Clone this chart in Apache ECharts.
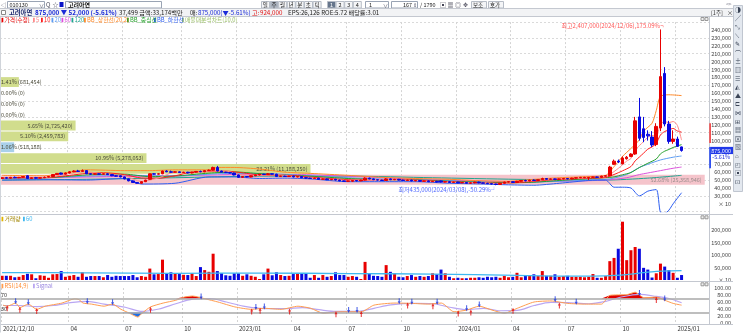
<!DOCTYPE html>
<html><head><meta charset="utf-8">
<script src="https://cdn.jsdelivr.net/npm/echarts@6/dist/echarts.min.js"></script>
<style>html,body{margin:0;padding:0;background:#fff;}#c{width:743px;height:333px;}</style>
</head><body><div id="c"></div>
<script>
// ---------- DATA (prices in chart units: won / 10) ----------
const tickIdx  = [0,16,29,43,56,69,82,95,108,121,134,147,160];
const tickText = ['2021/12/10','04','07','10','2023/01','04','07','10','2024/01','04','07','10','2025/01'];

const open = [52000,53000,52500,53500,53000,53500,55500,52000,53000,52500,53000,54000,54500,57000,59000,57500,59000,60500,61500,61000,62000,58000,57500,58000,57500,58000,57000,
55500,
55500,54000,51500,49000,47000,46000,48000,51000,58000,57500,58000,61500,60500,60000,60500,59500,60000,59000,60000,61000,60500,62000,62500,66000,61500,60000,59500,59000,56500,53500,54500,54000,55500,56500,57500,57000,58000,57500,54500,55000,54500,55000,54000,54500,53000,52500,52000,52500,51000,51500,50500,51000,50000,49000,
48500,
48500,49500,49000,50000,52500,51500,50500,50000,49500,51500,50500,51000,50000,49500,50000,49000,49500,48500,49000,48000,48500,49000,47500,48000,47000,47500,46500,47000,46000,46500,47500,46500,46000,45500,45000,44500,46000,47500,48000,47000,48500,49500,49000,50000,49500,50500,52000,51000,51500,51000,51500,52000,51500,52500,
53000,
53000,53000,53500,54000,53500,55000,55500,70000,74000,70500,77000,80000,83000,130000,115000,108000,104500,95000,116000,185000,121000,99000,102000,92000];
const close = [53000,52500,53500,53000,53500,54500,52000,53000,52500,53000,53500,54500,57000,58500,57500,59000,60500,61500,61000,62000,58000,57500,58000,57500,58000,57000,55500,
55000,
54000,51500,49000,47000,46000,48000,50000,58000,57500,58000,61500,60500,60000,60500,59500,60000,59000,60000,61000,60500,62000,62500,66000,61500,60000,59500,59000,56500,53500,54500,54000,55500,56500,57500,57000,58000,57500,54500,55000,54500,55000,54000,54500,53000,52500,52000,52500,51000,51500,50500,51000,50000,49000,48500,
49000,
49500,49000,50000,52500,51500,50500,50000,49500,51500,50500,51000,50000,49500,50000,49000,49500,48500,49000,48000,48500,47500,47500,48000,47000,47500,46500,47000,46000,46500,47500,46500,46000,45500,45000,44500,46000,47500,48000,47000,48500,49500,49000,50000,49500,50500,52000,51000,51500,51000,51500,52000,51500,52500,53000,
53500,
53500,53500,54000,53500,55000,55500,66500,74000,73000,78000,79000,83000,125000,103000,104000,106000,94500,118000,181000,121000,99000,102000,92700,87500];
const low = [51500,52000,52000,52500,52500,53000,51500,51500,52000,52000,52500,53500,54000,56500,57000,57000,58500,60000,60500,60500,57500,57000,57000,57000,57000,56500,55000,
54500,
53500,51000,48500,46500,45500,45500,47500,50500,57000,57000,57500,60000,59500,59500,59000,59000,58500,58500,59500,60000,60000,61500,62000,61000,59500,59000,58500,56000,53000,53000,53500,53500,55000,56000,56500,56500,57000,54000,54000,54000,54000,53500,53500,52500,52000,51500,51500,50500,50500,50000,50000,49500,48500,48000,
48000,
48000,48500,48500,49500,51000,50000,49500,49000,49000,50000,50000,49500,49000,49000,48500,48500,48000,48000,47500,47500,47000,47000,47000,46500,46500,46000,46000,45500,45500,46000,46000,45500,45000,44500,43500,44000,45500,47000,46500,46500,48000,48500,48500,49000,49000,50000,50500,50500,50500,50500,51000,51000,51000,52000,
52500,
52500,50000,53000,53000,53000,54500,55000,69000,71500,70000,76000,79000,82000,100000,98000,100000,92000,93000,112000,118000,96000,96000,92000,86000];
const high = [53500,54000,54000,54500,54000,55000,56000,53500,54000,53500,54500,55000,57500,59000,59500,59500,61500,62500,63000,63500,62500,58500,58500,58500,58500,58500,57500,
56500,
56000,54500,52000,49500,47500,48500,50500,58500,59000,59000,62000,62500,62000,61500,61000,60500,60500,60500,61500,62000,62500,63500,67000,68000,62000,60500,60000,59500,57000,55000,55000,56000,57000,58000,58000,59000,58500,58000,55500,55500,55500,55500,55000,55000,53500,53000,53000,53000,52000,52000,51500,51500,50500,49500,
49500,
50000,50000,50500,53500,53000,52000,51000,50500,52500,52000,51500,51500,50500,50500,50500,50000,50000,49500,49500,49000,49000,49500,48500,48500,48000,48000,47500,47500,47000,48000,48000,47000,46500,46000,45500,46500,48000,48500,48500,49000,50000,50500,50500,51000,51000,53000,52500,52000,52000,52000,52500,52500,53000,53500,
54000,
54000,54000,54500,54500,55500,56000,68000,76000,76000,80000,80500,84000,130000,154000,130000,113000,112000,122000,240700,193000,125000,113000,105000,92400];
const volume = [17000,17000,17000,11000,13000,20000,25000,23000,7000,19000,17000,9000,23000,24000,36000,13000,17000,20000,13000,31000,13000,16000,16000,16000,11000,20000,13000,
17000,
16000,16000,16000,20000,11000,16000,13000,46000,23000,24000,82000,27000,31000,28000,24000,21000,20000,27000,16000,52000,40000,33000,106000,36000,27000,19000,17000,27000,27000,17000,23000,17000,13000,4000,23000,46000,19000,31000,20000,16000,17000,24000,27000,25000,27000,9000,20000,9000,20000,13000,16000,31000,20000,20000,
13000,
16000,13000,4000,73000,27000,17000,16000,13000,60000,33000,27000,13000,11000,16000,20000,13000,16000,13000,16000,27000,23000,42000,27000,13000,7000,9000,7000,7000,9000,9000,11000,9000,13000,11000,13000,9000,16000,11000,13000,29000,11000,20000,16000,23000,16000,36000,17000,17000,23000,13000,16000,17000,13000,13000,
13000,
11000,13000,24000,9000,9000,16000,76000,89000,126000,235000,80000,120000,133000,126000,49000,42000,10000,27000,66000,54000,40000,29000,9000,20000];

// moving averages / bands: [barIndex, value]
const ma5  = [[0,53000],[4,53200],[8,52800],[12,54500],[16,58500],[20,60600],[24,57800],[29,55300],[33,48300],[37,52700],[41,60100],[45,59800],[49,61300],[53,61400],[57,56400],[61,56000],[65,56900],[69,54600],[73,52800],[77,51300],[82,49500],[86,50400],[90,50800],[94,50400],[98,49600],[102,48400],[106,47600],[110,46800],[114,46700],[118,45400],[122,47800],[126,49200],[130,51200],[134,51600],[139,53100],[143,54300],[144,56800],[145,60800],[146,64800],[147,69400],[148,74100],[149,77400],[150,87600],[151,93600],[152,98800],[153,104200],[154,106500],[155,105100],[156,120700],[157,124100],[158,122700],[159,124200],[160,119300],[161,100600]];
const ma10 = [[0,53000],[4,53000],[8,53000],[12,53700],[16,56000],[20,58400],[24,59300],[29,57000],[33,52600],[37,52300],[41,55500],[45,60200],[49,60800],[53,61400],[57,59200],[61,56500],[65,56300],[69,55600],[73,53800],[77,52200],[82,50500],[86,50100],[90,50500],[94,50600],[98,50000],[102,49000],[106,48000],[110,47200],[114,46600],[118,46100],[122,46800],[126,48400],[130,50300],[134,51400],[139,52400],[143,53400],[145,57100],[147,61700],[149,67200],[150,74300],[151,79200],[152,84100],[153,89200],[154,92000],[155,96400],[156,107200],[157,111500],[158,113500],[159,115400],[160,112200],[161,110700]];
const ma20 = [[0,52500],[10,52800],[20,55000],[31,56000],[41,55000],[51,58000],[61,58500],[71,56000],[82,53000],[92,51000],[102,50000],[112,48000],[122,47000],[132,48500],[141,50500],[144,51500],[148,57000],[151,66000],[153,70000],[156,75500],[159,79000],[161,80500]];
const ma60 = [[0,52000],[20,54000],[41,55500],[61,57500],[71,57000],[82,55000],[92,52500],[102,50500],[112,49000],[122,48000],[132,48500],[143,50000],[148,53000],[151,57000],[153,59000],[156,62000],[159,65000],[161,66500]];
const ma120 = [[0,50000],[20,51000],[41,53000],[61,55000],[82,55000],[102,53000],[122,51000],[143,50000],[153,52500],[161,56000]];
const bbUpper = [[0,56000],[10,55500],[16,60000],[20,63000],[29,62000],[35,62000],[41,63000],[49,63000],[51,66000],[55,66000],[61,64000],[67,60000],[73,58500],[82,56000],[90,53500],[98,52000],[106,51000],[114,49000],[120,48500],[126,51000],[132,53000],[139,54500],[143,56000],[145,67000],[147,80000],[149,90000],[151,101000],[152,112000],[154,122000],[155,138000],[156,156000],[158,158000],[161,157000]];
const bbMid = [[0,53000],[10,53000],[20,56500],[29,57500],[35,54400],[41,55200],[49,58800],[55,60300],[61,58200],[67,56300],[73,55000],[82,52000],[90,50600],[98,50200],[106,48600],[114,47200],[120,46600],[126,47300],[132,49500],[139,51900],[143,53100],[145,54100],[147,56700],[149,59600],[151,65900],[153,71300],[155,76700],[156,83200],[157,86600],[158,88800],[159,91300],[160,93200],[161,94900]];
const bbLower = [[0,50000],[10,50500],[20,50000],[29,52000],[33,45000],[41,46000],[49,54000],[55,54000],[61,52000],[67,52500],[73,51500],[82,48000],[90,48000],[98,48000],[106,46000],[114,45000],[120,44000],[126,43500],[132,46000],[139,49500],[143,50000],[145,41000],[147,41000],[149,40000],[151,30000],[153,36000],[155,38000],[156,9000],[157,8000],[158,12000],[159,20000],[160,27000],[161,34000]];
const volMa60 = [[0,30000],[20,29000],[41,27000],[61,28000],[82,26000],[102,24000],[122,19000],[132,16000],[143,17000],[148,22000],[153,32000],[158,37000],[161,38000]];

// volume profile (10 bins)
const vpEdges = [43500,57250,71000,84750,98500,112250,126000,139750,153500,167250,181000];
const vpPct   = [52.68,23.21,10.95,1.06,5.10,5.65,0,0,0,1.41];
const vpVol   = [25358946,11188250,5278053,518188,2459783,2725420,0,0,0,681454];

// RSI(14,9)
const rsi = [[0,51],[1,48],[3,57],[4,44],[6,54],[8,39],[10,48],[14,57],[17,69],[18,67],[19,57],[21,54],[24,48],[26,54],[28,39],[30,28],[32,17],[33,28],[35,46],[38,57],[41,65],[43,74],[45,77],[48,69],[51,60],[55,46],[59,39],[62,42],[66,39],[70,48],[73,42],[76,28],[80,32],[85,32],[88,51],[93,57],[97,56],[101,54],[104,57],[107,32],[110,37],[113,48],[116,37],[119,28],[122,42],[126,60],[130,63],[134,56],[138,54],[142,54],[144,79],[148,81],[150,88],[152,72],[155,74],[157,65],[159,56],[161,51]];
const signal = [[0,50],[4,50],[8,47],[12,50],[16,58],[20,62],[24,54],[29,45],[33,33],[37,40],[41,55],[45,68],[49,70],[53,60],[57,48],[61,42],[67,41],[71,44],[75,38],[79,33],[84,33],[88,42],[92,52],[98,56],[102,55],[106,45],[110,38],[114,42],[118,35],[122,36],[126,50],[130,59],[134,58],[139,55],[143,62],[147,75],[151,82],[155,76],[158,70],[161,58]];
const sellArrows = [[3,62],[6,59],[20,62],[26,59],[47,76],[60,46],[62,47],[82,37],[84,37],[94,62],[97,61],[103,61],[110,42],[113,53],[131,68],[136,61],[151,86],[157,70]];
const buyArrows  = [[1,42],[4,38],[8,34],[35,38],[59,33],[61,35],[68,33],[79,25],[85,26],[96,50],[102,48],[108,27],[111,30],[121,35],[132,50],[155,66]];
const rsiLevels = [70,30];

const hiDate = '2024/12/06', loDate = '2024/03/08';
const sideRed = [97000,122000], sideBlue = [65000,92000];

// ---------- CHART ----------
const FF = '"Noto Sans CJK KR","Noto Sans",sans-serif';
const RED = '#e80000', BLUE = '#0a0ae0';
const C = {ma5:'#ff8c8c', ma10:'#ff1e1e', ma20:'#5c9cf2', ma60:'#dc50dc', ma120:'#20a590',
  bbU:'#ff8a2a', bbM:'#25a02a', bbL:'#2d5ef0'};
const NSLOT = 168;
const slots = Array.from({length:NSLOT}, (_, i) => String(i));
const isTick = i => tickIdx.indexOf(i) >= 0;
const fmt = v => Number(v).toLocaleString('en-US');
const chart = echarts.init(document.getElementById('c'), null, {width:743, height:333, renderer:'canvas'});

const candleData = open.map((o, i) => [o, close[i], low[i], high[i]]);
const volData = volume.map((v, i) => ({value: v, itemStyle: {color: close[i] >= open[i] ? RED : BLUE}}));
const last = close.length - 1;
const lastClose = close[last];
let hiIdx = 0, loIdx = 0;
high.forEach((h, i) => { if (h > high[hiIdx]) hiIdx = i; });
low.forEach((l, i) => { if (l < low[loIdx]) loIdx = i; });
const pctFrom = v => ((v / lastClose - 1) * 100).toFixed(2);
const hiText = '최고' + fmt(high[hiIdx] * 10) + '(' + hiDate + '),' + pctFrom(high[hiIdx]) + '%¬';
const loText = '최저' + fmt(low[loIdx] * 10) + '(' + loDate + '),' + pctFrom(low[loIdx]) + '%┘';
let maxBin = 0, curBin = 0;
vpPct.forEach((p, i) => { if (p > vpPct[maxBin]) maxBin = i; });
vpEdges.forEach((e, i) => { if (i < vpPct.length && lastClose >= e) curBin = i; });

function xAx(grid, showLabel) {
  return {type:'category', gridIndex:grid, data:slots, boundaryGap:true,
    axisLine:{show:false}, axisTick:{show:false},
    axisLabel: showLabel ? {show:true, interval:(i) => isTick(i), formatter:(v) => tickText[tickIdx.indexOf(+v)] || '',
      align:'left', fontSize:6, fontFamily:FF, color:'#333', margin:3} : {show:false},
    splitLine:{show:true, interval:(i) => isTick(i), lineStyle:{color:'#d4d4d4', type:[2,2], width:1}}};
}
const lineS = (name, data, color, w) => ({name, type:'line', xAxisIndex:0, yAxisIndex:0, data,
  showSymbol:false, symbol:'none', smooth:0.25, connectNulls:true, silent:true, z:3,
  lineStyle:{color, width:w || 1}});

const option = {
  animation:false,
  backgroundColor:'#ffffff',
  textStyle:{fontFamily:FF},
  grid:[
    {left:0, top:22.1, width:709, height:189.6, containLabel:false},
    {left:0, top:215.5, width:709, height:64.5, containLabel:false},
    {left:0, top:288, width:709, height:35, containLabel:false}
  ],
  xAxis:[ xAx(0,false), xAx(1,false), xAx(2,true),
    {type:'value', gridIndex:0, min:0, max:53, show:false} ],
  yAxis:[
    {type:'value', gridIndex:0, position:'right', min:10000, max:250000, interval:10000,
      axisLine:{show:false}, axisTick:{show:false}, splitLine:{show:false},
      axisLabel:{align:'right', margin:22, fontSize:5.5, fontFamily:FF, color:'#444',
        formatter:(v) => v === 20000 ? '× 10' : (v < 30000 || v > 240000 || v === 80000 || v === 90000) ? '' : fmt(v)}},
    {type:'value', gridIndex:0, position:'right', min:10000, max:250000, interval:20000,
      axisLine:{show:false}, axisTick:{show:false}, axisLabel:{show:false},
      splitLine:{show:true, lineStyle:{color:'#dadada', type:[2,2], width:1}}},
    {type:'value', gridIndex:1, position:'right', min:0, max:260000, interval:50000,
      axisLine:{show:false}, axisTick:{show:false}, splitLine:{show:false},
      axisLabel:{align:'right', margin:22, fontSize:5.5, fontFamily:FF, color:'#444',
        formatter:(v) => v === 0 ? '× 10' : v > 200000 ? '' : fmt(v)}},
    {type:'value', gridIndex:2, position:'right', min:0, max:100, interval:20,
      axisLine:{show:false}, axisTick:{show:false}, splitLine:{show:false},
      axisLabel:{align:'right', margin:22, fontSize:5.5, fontFamily:FF, color:'#444',
        formatter:(v) => v.toFixed(2)}}
  ],
  series:[
    {type:'custom', name:'매물대', xAxisIndex:3, yAxisIndex:0, silent:true, z:1,
      data: vpPct.map((p, i) => [p, vpEdges[i], vpEdges[i+1], vpVol[i]]),
      renderItem:(params, api) => {
        const i = params.dataIndex;
        const pct = api.value(0), lo = api.value(1), hi = api.value(2), vol = api.value(3);
        const a = api.coord([0, hi]), b = api.coord([pct, lo]);
        const top = a[1] + 0.5, h = b[1] - a[1] - 1, w = b[0] - a[0];
        const fill = i === maxBin ? '#f5c4cb' : (i === curBin ? '#a9d0ea' : '#d1dd8d');
        const txt = pct.toFixed(2) + '% (' + fmt(vol) + ')';
        const tw = txt.length * 3.2;
        const fits = w > tw + 4;
        const kids = [];
        if (w > 0) kids.push({type:'rect', shape:{x:a[0], y:top, width:w, height:h}, style:{fill}});
        kids.push({type:'text', style:{text:txt, x: fits ? a[0] + w - 3 : a[0] + 1, y: top + h / 2,
          align: fits ? 'right' : 'left', verticalAlign:'middle',
          font:'5.5px ' + FF, fill: i === maxBin ? '#9a8c8c' : '#4a4a3a'}});
        return {type:'group', children:kids};
      }},
    lineS('120', ma120, C.ma120),
    lineS('60', ma60, C.ma60),
    lineS('20', ma20, C.ma20),
    lineS('BB_하한선', bbLower, C.bbL),
    lineS('BB_중심선', bbMid, C.bbM),
    lineS('BB_상한선', bbUpper, C.bbU),
    lineS('10', ma10, C.ma10),
    lineS('5', ma5, C.ma5),
    {type:'candlestick', name:'가격', xAxisIndex:0, yAxisIndex:0, data:candleData, barWidth:3, z:4, silent:true,
      itemStyle:{color:RED, color0:BLUE, borderColor:RED, borderColor0:BLUE, borderWidth:1}},
    {type:'scatter', xAxisIndex:0, yAxisIndex:0, symbolSize:0, silent:true, z:6,
      label:{show:true, fontSize:6, fontFamily:FF},
      data:[
        {value:[hiIdx, high[hiIdx]], label:{position:'left', distance:0, offset:[3,-4], color:'#ff2a2a', formatter:hiText}},
        {value:[loIdx, low[loIdx]], label:{position:'left', distance:0, offset:[1,4], color:'#2040ff', formatter:loText}}
      ]},
    {type:'bar', name:'거래량', xAxisIndex:1, yAxisIndex:2, data:volData, barWidth:3, silent:true, z:2},
    {type:'line', name:'vol60', xAxisIndex:1, yAxisIndex:2, data:volMa60, showSymbol:false, symbol:'none',
      smooth:0.3, connectNulls:true, silent:true, z:3, lineStyle:{color:'#3fb8f0', width:1.3}},
    {type:'line', xAxisIndex:2, yAxisIndex:3, stack:'hi', data:rsi.map(d => [d[0], rsiLevels[0]]),
      symbol:'none', lineStyle:{width:0}, silent:true, z:1},
    {type:'line', xAxisIndex:2, yAxisIndex:3, stack:'hi', data:rsi.map(d => [d[0], Math.max(d[1], rsiLevels[0]) - rsiLevels[0]]),
      symbol:'none', lineStyle:{width:0}, areaStyle:{color:'#e00000', opacity:1}, silent:true, z:1},
    {type:'line', xAxisIndex:2, yAxisIndex:3, stack:'lo', data:rsi.map(d => [d[0], Math.min(d[1], rsiLevels[1])]),
      symbol:'none', lineStyle:{width:0}, silent:true, z:1},
    {type:'line', xAxisIndex:2, yAxisIndex:3, stack:'lo', data:rsi.map(d => [d[0], rsiLevels[1] - Math.min(d[1], rsiLevels[1])]),
      symbol:'none', lineStyle:{width:0}, areaStyle:{color:'#1e6ee6', opacity:1}, silent:true, z:1},
    {type:'line', name:'Signal', xAxisIndex:2, yAxisIndex:3, data:signal, showSymbol:false, symbol:'none', smooth:0.3,
      silent:true, z:3, lineStyle:{color:'#b9a6f2', width:1.2},
      markLine:{silent:true, symbol:'none', animation:false,
        lineStyle:{color:'#a8a8a8', type:'solid', width:1.5},
        label:{show:true, position:'insideStartTop', fontSize:5.5, color:'#333', distance:[0,1], formatter:(p) => String(p.value)},
        data: rsiLevels.map(v => ({yAxis:v}))}},
    {type:'line', name:'RSI', xAxisIndex:2, yAxisIndex:3, data:rsi, showSymbol:false, symbol:'none', smooth:0.2,
      silent:true, z:4, lineStyle:{color:'#ff9d50', width:1}},
    {type:'scatter', xAxisIndex:2, yAxisIndex:3, data:sellArrows, silent:true, z:5,
      symbol:'path://M3,10 L6,5 L4,5 L4,0 L2,0 L2,5 L0,5 Z', symbolSize:[3,6], itemStyle:{color:'#1030e0'}},
    {type:'scatter', xAxisIndex:2, yAxisIndex:3, data:buyArrows, silent:true, z:5,
      symbol:'path://M3,0 L6,5 L4,5 L4,10 L2,10 L2,5 L0,5 Z', symbolSize:[3,6], itemStyle:{color:'#e00000'}}
  ]
};
chart.setOption(option);

// ---------- static frame / texts ----------
function T(x, y, text, fill, size, opt) {
  const o = opt || {};
  const style = {text, x, y, fill: fill || '#222',
    font:(o.bold ? 'bold ' : '') + (size || 6) + 'px ' + FF, verticalAlign:'middle'};
  if (o.align) style.align = o.align;
  return {type:'text', silent:true, z:100, style};
}
function R(x, y, w, h, fill, stroke) {
  return {type:'rect', silent:true, z:99, shape:{x, y, width:w, height:h},
    style:{fill: fill || 'none', stroke: stroke || null, lineWidth:1}};
}
function L(x1, y1, x2, y2, c) {
  return {type:'line', silent:true, z:99, shape:{x1, y1, x2, y2}, style:{stroke: c || '#c4c8d0', lineWidth:1}};
}
const G = [];
// toolbar row
G.push(R(0, 0, 743, 8.5, '#ffffff'));
G.push(T(0.5, 4.5, '◁', '#556', 6));
G.push(R(7.5, 1.5, 37, 6.5, '#fff', '#9aa4b4'), T(9.5, 4.8, '010130', '#222', 5.5), T(39, 4.8, '∨', '#556', 5));
G.push(T(46, 4.8, 'Q', '#445', 6), T(52.5, 4.8, '☆', '#445', 6), R(59.5, 2, 4, 5, '#0a14c8'));
G.push(R(65.5, 1.5, 96, 6.5, '#fff', '#9aa4b4'), T(68, 4.8, '고려아연', '#111', 6, {bold:true}));
['일','주','월','년','분','초','틱'].forEach((s, k) => {
  const x = 261.5 + k * 8.6;
  G.push(R(x, 1.5, 8, 6.5, k === 1 ? '#a9b1bd' : '#f4f5f7', '#b6bcc6'), T(x + 1.3, 4.8, s, '#222', 5.5));
});
['1','2','3','4'].forEach((s, k) => {
  const x = 327.5 + k * 8.6;
  G.push(R(x, 1.5, 8, 6.5, k === 0 ? '#66768c' : '#f4f5f7', '#b6bcc6'), T(x + 2.5, 4.8, s, k === 0 ? '#fff' : '#222', 5.5));
});
G.push(R(365.5, 1.5, 23, 6.5, '#fff', '#9aa4b4'), T(369, 4.8, '1', '#222', 5.5), T(383, 4.8, '∨', '#556', 5));
G.push(R(391.5, 1.5, 26, 6.5, '#fff', '#9aa4b4'), T(403, 4.8, '167', '#222', 5.5), T(413, 4.8, '⇕', '#556', 5));
G.push(T(420, 4.8, '/ 1790', '#222', 5.5));
['▣','▦','◎','✥'].forEach((s, k) => G.push(T(440 + k * 7.5, 4.8, s, '#445', 6)));
G.push(R(471.5, 1.5, 15, 6.5, '#f4f5f7', '#b6bcc6'), T(473, 4.8, '보조', '#222', 5.5));
G.push(R(488.5, 1.5, 15, 6.5, '#f4f5f7', '#b6bcc6'), T(490, 4.8, '호가', '#222', 5.5));
G.push(T(726, 4, '<>', '#667', 5));
// header row
G.push(R(0, 8.5, 733, 8, '#f2f3f5'), L(0, 8.5, 733, 8.5), L(0, 16.5, 733, 16.5));
G.push(R(1.5, 10.5, 4, 4, '#fff', '#888'));
G.push(T(9, 12.7, '고려아연', '#1c2a6e', 6.3, {bold:true}));
G.push(T(35, 12.7, fmt(lastClose * 10) + ' ▼ 52,000 (-5.61%)', '#1a2ad8', 6.3, {bold:true}));
G.push(T(119, 12.7, '37,499 금액:33,174백만', '#222', 6.2));
G.push(T(190, 12.7, '매:', '#222', 6.2), T(198, 12.7, fmt(lastClose * 10) + '(▼-5.61%)', '#1a2ad8', 6.2));
G.push(T(252, 12.7, '고:', '#e01010', 6.2), T(260, 12.7, fmt(high[last] * 10), '#e01010', 6.2));
G.push(T(288, 12.7, 'EPS:26,126 ROE:5.72 배당률:3.01', '#222', 6.2));
G.push(T(711, 12.7, '[1주]', '#333', 5.5), T(727, 12.7, '×', '#333', 6));
// legend row
const leg = [['가격(수정)', RED, 1.5], ['5', C.ma5, 33], ['10', C.ma10, 41], ['20', C.ma20, 51.5], ['60', C.ma60, 61.5],
  ['120', C.ma120, 71.5], ['BB_상한선(20,2)', C.bbU, 84], ['BB_중심선', C.bbM, 127], ['BB_하한선', C.bbL, 154], ['매물대분석차트(10,0)', '#9cc06a', 182]];
leg.forEach(([s, c, x]) => { G.push(R(x, 17.8, 1.8, 4.5, c), T(x + 3, 20.2, s, c, 5.8)); });
G.push(R(701, 17.5, 3, 3, '#eee', '#999'), R(705, 17.5, 3, 3, '#eee', '#999'));
// volume legend
G.push(R(1.5, 216.8, 1.8, 4.5, '#e2b400'), T(4.5, 219.2, '거래량', '#a08400', 5.8));
G.push(R(23, 216.8, 1.8, 4.5, '#3fb8f0'), T(26, 219.2, '60', '#3fb8f0', 5.8));
G.push(R(701, 215.8, 3, 3, '#eee', '#999'), R(705, 215.8, 3, 3, '#eee', '#999'));
// rsi legend
G.push(R(1.5, 283.8, 1.8, 4.5, '#ff9d50'), T(4.5, 286.2, 'RSI(14,9)', '#ff8a30', 5.8));
G.push(R(33, 283.8, 1.8, 4.5, '#b9a6f2'), T(36, 286.2, 'Signal', '#9a88e0', 5.8));
G.push(R(701, 282.8, 3, 3, '#eee', '#999'), R(705, 282.8, 3, 3, '#eee', '#999'));
// separators
G.push(L(0, 214.5, 733, 214.5), L(0, 281.5, 733, 281.5), L(0, 324.5, 733, 324.5), L(709.5, 16.5, 709.5, 324.5));
G.push(L(0.5, 16.5, 0.5, 332.5, '#d0d4da'));
// right toolbar
G.push(R(733.5, 5.5, 9, 186, '#e3e8ef', '#c0c6d0'));
const icons = ['◑','╱','⤡','⟍','✎','⌒','±','▥','☰','◭','▲','⊏','⋈','⊞','▦','⊠','▧','⌂','◰','▣','⊡'];
icons.forEach((s, k) => G.push(T(735, 9.5 + k * 8.6, s, '#3a4456', 6)));
// current price tag & side bars (positioned by the axis)
const yOf = v => chart.convertToPixel({yAxisIndex:0}, v);
const yc = yOf(lastClose);
G.push(R(710, yc - 3.6, 23, 7.2, '#2038e8'), T(731, yc, fmt(lastClose * 10), '#fff', 5.5, {align:'right'}));
G.push(T(730, yc + 6.5, '-5.61%', '#1a2ad8', 5.5, {align:'right'}));
G.push(R(709.2, yOf(sideRed[1]), 1.8, yOf(sideRed[0]) - yOf(sideRed[1]), '#f05050'));
G.push(R(709.2, yOf(sideBlue[1]), 1.8, yOf(sideBlue[0]) - yOf(sideBlue[1]), '#3050f0'));
chart.setOption({graphic: G}, {replaceMerge:['graphic']});
</script></body></html>
